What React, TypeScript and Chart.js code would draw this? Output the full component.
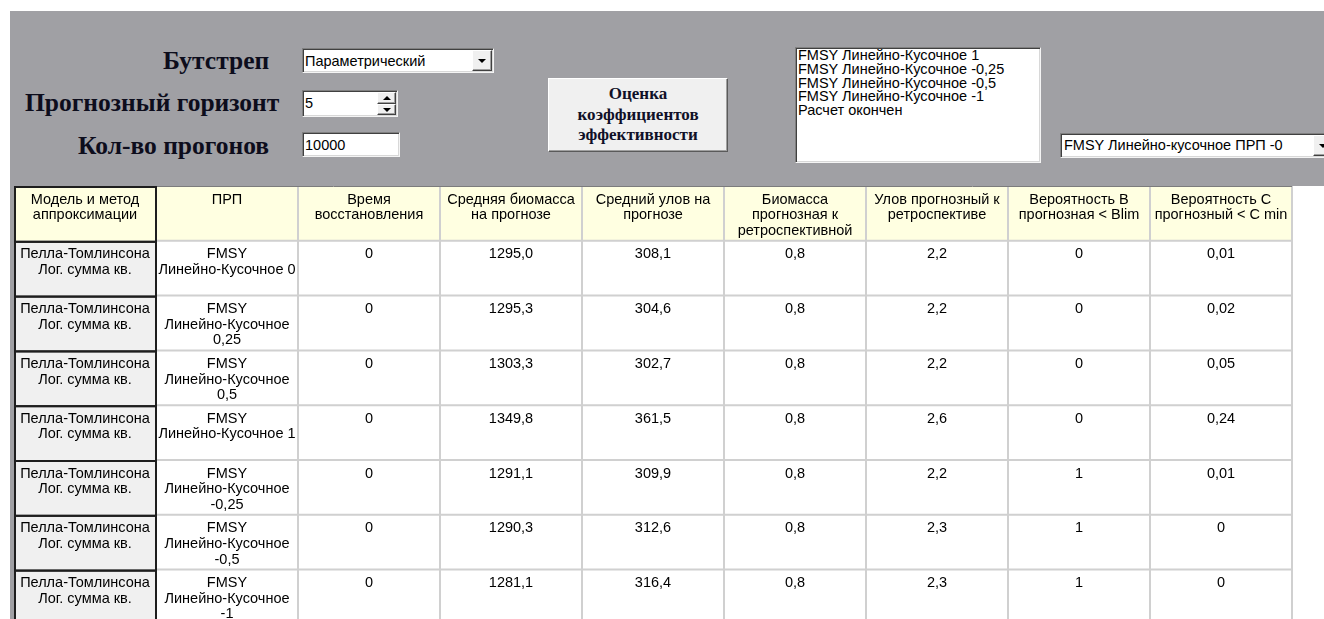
import React, { useEffect, useRef } from "react";
import { Chart, registerables } from "chart.js";

Chart.register(...registerables);

// ---------------- data ----------------
const columnHeaders = [
  "Модель и метод аппроксимации",
  "ПРП",
  "Время восстановления",
  "Средняя биомасса на прогнозе",
  "Средний улов на прогнозе",
  "Биомасса прогнозная к ретроспективной",
  "Улов прогнозный к ретроспективе",
  "Вероятность B прогнозная < Blim",
  "Вероятность C прогнозный < C min",
];
const models = [
  "Пелла-Томлинсона Лог. сумма кв.",
  "Пелла-Томлинсона Лог. сумма кв.",
  "Пелла-Томлинсона Лог. сумма кв.",
  "Пелла-Томлинсона Лог. сумма кв.",
  "Пелла-Томлинсона Лог. сумма кв.",
  "Пелла-Томлинсона Лог. сумма кв.",
  "Пелла-Томлинсона Лог. сумма кв.",
];
const rules = [
  "FMSY Линейно-Кусочное 0",
  "FMSY Линейно-Кусочное 0,25",
  "FMSY Линейно-Кусочное 0,5",
  "FMSY Линейно-Кусочное 1",
  "FMSY Линейно-Кусочное -0,25",
  "FMSY Линейно-Кусочное -0,5",
  "FMSY Линейно-Кусочное -1",
];
const recoveryTime = [0, 0, 0, 0, 0, 0, 0];
const meanBiomass = [1295.0, 1295.3, 1303.3, 1349.8, 1291.1, 1290.3, 1281.1];
const meanCatch = [308.1, 304.6, 302.7, 361.5, 309.9, 312.6, 316.4];
const biomassRatio = [0.8, 0.8, 0.8, 0.8, 0.8, 0.8, 0.8];
const catchRatio = [2.2, 2.2, 2.2, 2.6, 2.2, 2.3, 2.3];
const probBelowBlim = [0, 0, 0, 0, 1, 1, 1];
const probBelowCmin = [0.01, 0.02, 0.05, 0.24, 0.01, 0, 0];

const bootstrapMode = "Параметрический";
const forecastHorizon = "5";
const runCount = "10000";
const buttonLines = ["Оценка", "коэффициентов", "эффективности"];
const logLines = [
  "FMSY Линейно-Кусочное 1",
  "FMSY Линейно-Кусочное -0,25",
  "FMSY Линейно-Кусочное -0,5",
  "FMSY Линейно-Кусочное -1",
  "Расчет окончен",
];
const selectedRule = "FMSY Линейно-кусочное ПРП -0";

// ---------------- styling ----------------
const PANEL = "#a0a0a4";
const HEADER_BG = "#ffffe1";
const FIXED_BG = "#f0f0f0";
const GRID = "#d0d0d0";
const SERIF = '"Liberation Serif", "Times New Roman", serif';
const SANS = '"Liberation Sans", Arial, sans-serif';
const SANS_SIZE = 14.5;
const CELL_FONT = `${SANS_SIZE}px ${SANS}`;

const fmt1 = (v: number) => v.toFixed(1).replace(".", ",");
const fmtRaw = (v: number) => String(v).replace(".", ",");

const tableRows: string[][] = models.map((m, i) => [
  m,
  rules[i],
  fmtRaw(recoveryTime[i]),
  fmt1(meanBiomass[i]),
  fmt1(meanCatch[i]),
  fmtRaw(biomassRatio[i]),
  fmtRaw(catchRatio[i]),
  fmtRaw(probBelowBlim[i]),
  fmtRaw(probBelowCmin[i]),
]);

function wrapText(ctx: CanvasRenderingContext2D, text: string, maxW: number) {
  const words = text.split(" ");
  const lines: string[] = [];
  let line = "";
  for (const w of words) {
    const test = line ? line + " " + w : w;
    if (line && ctx.measureText(test).width > maxW) {
      lines.push(line);
      line = w;
    } else line = test;
  }
  if (line) lines.push(line);
  return lines;
}

const tablePlugin = {
  id: "gridTable",
  beforeDraw(chart: any) {
    const { ctx } = chart;
    const xs = chart.scales.x;
    const ys = chart.scales.y;
    const W = chart.width;
    const H = chart.height;
    const nCols = columnHeaders.length;
    const nRows = tableRows.length;
    const X = (c: number) => xs.getPixelForValue(c);
    const Y = (r: number) => ys.getPixelForValue(r);
    ctx.save();
    ctx.fillStyle = "#ffffff";
    ctx.fillRect(0, 0, W, H);
    const xl = X(0);
    const xr = X(nCols);
    ctx.fillStyle = PANEL;
    ctx.fillRect(0, 0, xl, H);
    // header background
    ctx.fillStyle = HEADER_BG;
    ctx.fillRect(xl, Y(0), xr - xl, Y(1) - Y(0));
    // fixed column background
    ctx.fillStyle = FIXED_BG;
    ctx.fillRect(xl, Y(1), X(1) - xl, Y(nRows + 1) - Y(1));
    // light grid
    ctx.strokeStyle = GRID;
    ctx.lineWidth = 2;
    ctx.beginPath();
    for (let c = 2; c <= nCols; c++) {
      ctx.moveTo(X(c), Y(0));
      ctx.lineTo(X(c), Y(nRows + 1));
    }
    for (let r = 1; r <= nRows + 1; r++) {
      ctx.moveTo(X(1), Y(r));
      ctx.lineTo(xr, Y(r));
    }
    ctx.stroke();
    // header top line
    ctx.strokeStyle = "#7c7c7c";
    ctx.lineWidth = 1;
    ctx.beginPath();
    ctx.moveTo(xl, Y(0) + 0.5);
    ctx.lineTo(xr, Y(0) + 0.5);
    ctx.stroke();
    // dark borders of fixed column
    ctx.strokeStyle = "#1e1e1e";
    ctx.lineWidth = 2;
    for (let r = 0; r <= nRows; r++) {
      ctx.strokeRect(xl + 1, Y(r) + 1, X(1) - xl - 1, Y(r + 1) - Y(r));
    }
    // text
    ctx.font = CELL_FONT;
    ctx.fillStyle = "#000";
    ctx.textAlign = "center";
    ctx.textBaseline = "alphabetic";
    const drawCell = (text: string, c: number, rowTop: number) => {
      const cx = (X(c) + X(c + 1)) / 2;
      const maxW = X(c + 1) - X(c) - 2;
      const lines = wrapText(ctx, text, maxW);
      lines.forEach((ln, i) => ctx.fillText(ln, cx, rowTop + 17.5 + i * 15.6));
    };
    columnHeaders.forEach((h, c) => drawCell(h, c, Y(0)));
    tableRows.forEach((row, r) => row.forEach((t, c) => drawCell(t, c, Y(r + 1))));
    ctx.restore();
  },
};

function TableChart() {
  const ref = useRef<HTMLCanvasElement>(null);
  useEffect(() => {
    if (!ref.current) return;
    const colPx = 142;
    const rowPx = 54.8;
    const chart = new Chart(ref.current, {
      type: "scatter",
      data: { datasets: [] },
      options: {
        animation: false,
        responsive: false,
        maintainAspectRatio: false,
        events: [],
        layout: { padding: 0 },
        plugins: { legend: { display: false }, tooltip: { enabled: false } },
        scales: {
          x: { type: "linear", display: false, min: -4 / colPx, max: 1310 / colPx },
          y: { type: "linear", display: false, reverse: true, min: 0, max: 433 / rowPx },
        },
      },
      plugins: [tablePlugin],
    } as any);
    return () => chart.destroy();
  }, []);
  return (
    <canvas
      ref={ref}
      width={1314}
      height={433}
      style={{ position: "absolute", left: 10, top: 186, width: 1314, height: 433 }}
    />
  );
}

// ---------------- form widgets ----------------
const sunken: React.CSSProperties = {
  position: "absolute",
  boxSizing: "border-box",
  background: "#fff",
  borderStyle: "solid",
  borderWidth: 1,
  borderColor: "#808080 #f4f4f4 #f4f4f4 #808080",
  boxShadow: "inset 1px 1px 0 #404040, inset -1px -1px 0 #d8d8d8",
  overflow: "hidden",
};
const raised: React.CSSProperties = {
  position: "absolute",
  boxSizing: "border-box",
  background: "#f0f0f0",
  borderStyle: "solid",
  borderWidth: 1,
  borderColor: "#ffffff #404040 #404040 #ffffff",
  boxShadow: "inset -1px -1px 0 #a0a0a0",
};

function Box({ left, top, width, height }: any) {
  return <div style={{ ...sunken, left, top, width, height }} />;
}

function Tri({ cx, cy, dir, w = 8, h = 4 }: any) {
  const st: React.CSSProperties = {
    position: "absolute",
    left: cx - w / 2,
    top: cy - h / 2,
    width: 0,
    height: 0,
    borderLeft: `${w / 2}px solid transparent`,
    borderRight: `${w / 2}px solid transparent`,
  };
  if (dir === "down") st.borderTop = `${h}px solid #000`;
  else st.borderBottom = `${h}px solid #000`;
  return <div style={st} />;
}

function DropButton({ left, top, width, height }: any) {
  return (
    <>
      <div style={{ ...raised, left, top, width, height }} />
      <Tri cx={left + width / 2} cy={top + height / 2} dir="down" />
    </>
  );
}

function SansText({ left, baseline, size = SANS_SIZE, children }: any) {
  return (
    <div
      style={{
        position: "absolute",
        left,
        top: baseline - 0.8465 * size,
        font: `${size}px ${SANS}`,
        lineHeight: `${size}px`,
        whiteSpace: "nowrap",
        color: "#000",
      }}
    >
      {children}
    </div>
  );
}

function SerifLabel({ left, baseline, size = 25.5, children }: any) {
  return (
    <div
      style={{
        position: "absolute",
        left,
        top: baseline - 0.8375 * size,
        font: `bold ${size}px ${SERIF}`,
        lineHeight: `${size}px`,
        whiteSpace: "nowrap",
        color: "#0d0d1c",
      }}
    >
      {children}
    </div>
  );
}

export default function App() {
  return (
    <div
      style={{
        position: "absolute",
        left: 0,
        top: 0,
        width: 1324,
        height: 619,
        overflow: "hidden",
        background: "#fff",
      }}
    >
      <div style={{ position: "absolute", left: 10, top: 11, width: 1314, height: 175, background: PANEL }} />

      <SerifLabel left={163} baseline={69}>Бутстреп</SerifLabel>
      <SerifLabel left={25} baseline={111}>Прогнозный горизонт</SerifLabel>
      <SerifLabel left={78} baseline={154}>Кол-во прогонов</SerifLabel>

      {/* bootstrap combo */}
      <Box left={302} top={48} width={192} height={25} />
      <SansText left={305} baseline={66}>{bootstrapMode}</SansText>
      <DropButton left={472} top={50} width={20} height={21} />

      {/* horizon spin */}
      <Box left={302} top={90} width={96} height={27} />
      <SansText left={305} baseline={108}>{forecastHorizon}</SansText>
      <div style={{ ...raised, left: 377, top: 92, width: 19, height: 12 }} />
      <div style={{ ...raised, left: 377, top: 104, width: 19, height: 11 }} />
      <Tri cx={386.5} cy={98} dir="up" w={8} h={4} />
      <Tri cx={386.5} cy={109.5} dir="down" w={8} h={4} />

      {/* run count */}
      <Box left={302} top={132} width={98} height={25} />
      <SansText left={305} baseline={150}>{runCount}</SansText>

      {/* action button */}
      <div
        style={{
          ...raised,
          left: 548,
          top: 78,
          width: 180,
          height: 74,
          borderColor: "#ffffff #5a5a5a #5a5a5a #ffffff",
          display: "flex",
          flexDirection: "column",
          alignItems: "center",
          justifyContent: "center",
          font: `bold 17px ${SERIF}`,
          lineHeight: "20.5px",
          color: "#101028",
        }}
      >
        {buttonLines.map((l) => (
          <div key={l}>{l}</div>
        ))}
      </div>

      {/* log list */}
      <Box left={795} top={47} width={246} height={116} />
      <div
        style={{
          position: "absolute",
          left: 798,
          top: 49,
          font: `${SANS_SIZE}px ${SANS}`,
          lineHeight: "13.75px",
          color: "#000",
          whiteSpace: "nowrap",
        }}
      >
        {logLines.map((l, i) => (
          <div key={i}>{l}</div>
        ))}
      </div>

      {/* selected rule combo */}
      <Box left={1060} top={133} width={290} height={25} />
      <SansText left={1064} baseline={150}>{selectedRule}</SansText>
      <DropButton left={1313} top={135} width={20} height={21} />

      <TableChart />
    </div>
  );
}
